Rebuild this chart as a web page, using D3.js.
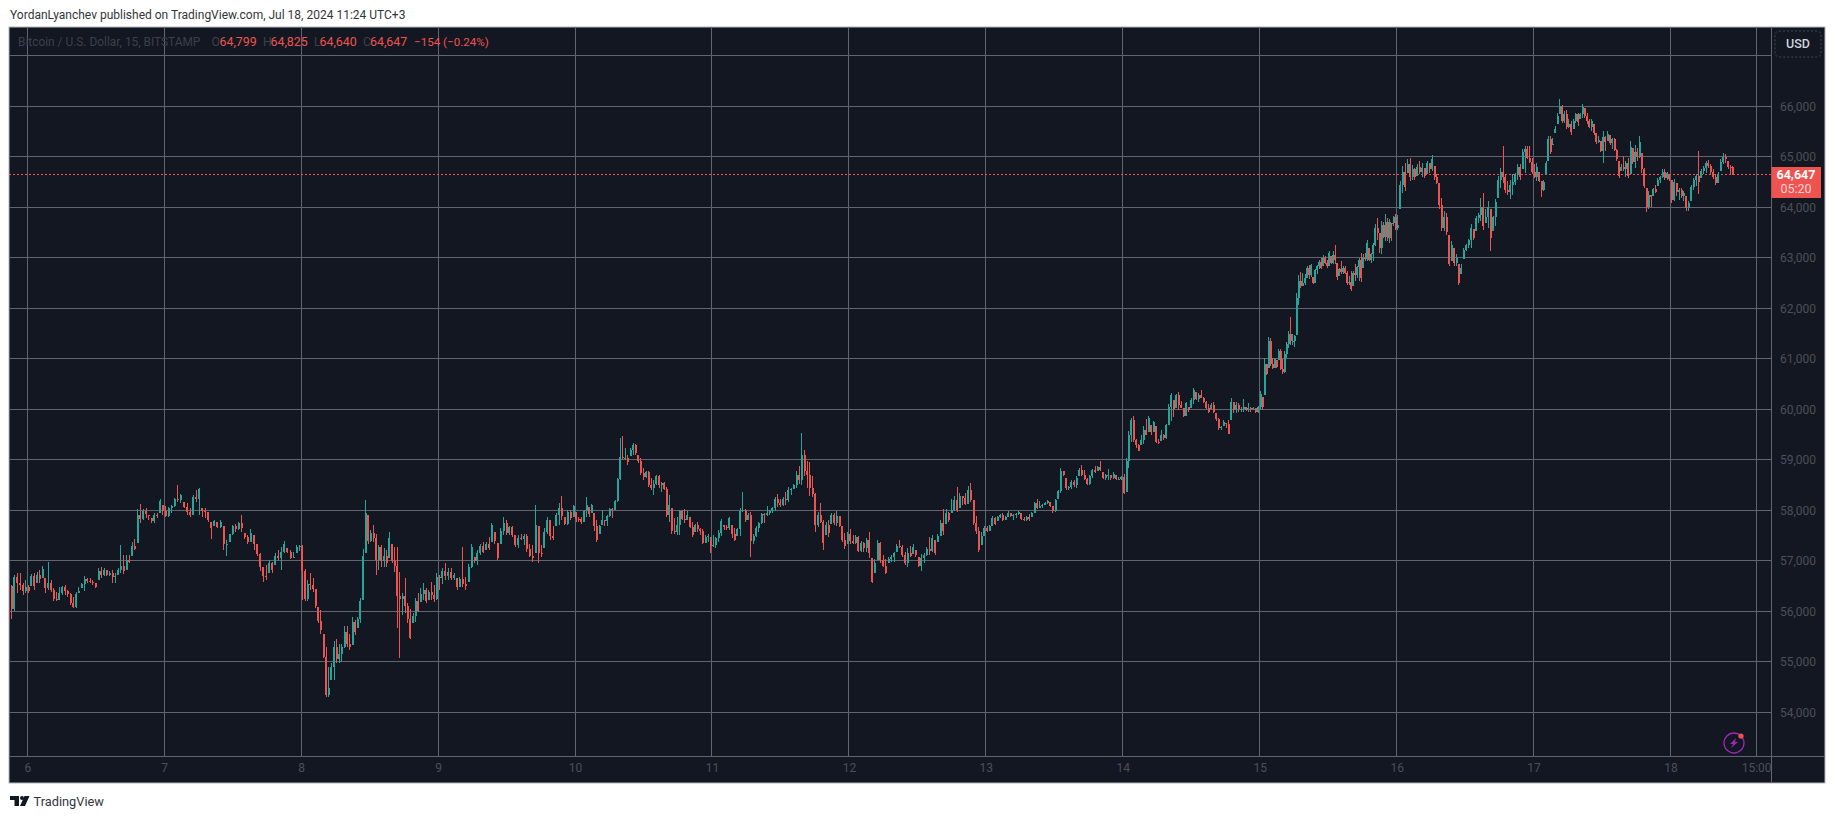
<!DOCTYPE html>
<html>
<head>
<meta charset="utf-8">
<script src="https://cdn.jsdelivr.net/npm/d3@7"></script>
<style>
  html, body { margin: 0; background: #fff; }
  text { font-family: Roboto, "Noto Sans", sans-serif; }
</style>
</head>
<body>
<div id="root"></div>
<script>
// half hour candles, each row is [high, low, close]
const day5 = [[56520,55850,56040],[56720,56000,56680],[56750,56360,56560],[56750,56420,56520],[56560,56320,56400],[56620,56360,56490]]
const day6 = [[56520,56360,56400],[56740,56510,56700],[56750,56420,56500],[56770,56560,56720],[56820,56560,56640],[56890,56650,56830],[56650,56360,56460],[56970,56420,56560],[56620,56390,56420],[56460,56210,56240],[56390,56210,56220],[56490,56230,56360],[56500,56320,56480],[56520,56320,56400],[56420,56290,56340],[56360,56130,56170],[56290,56060,56080],[56390,56060,56340],[56490,56360,56400],[56570,56460,56540],[56690,56410,56640],[56660,56560,56600],[56660,56560,56590],[56610,56520,56560],[56560,56470,56490],[56850,56620,56800],[56870,56660,56710],[56850,56690,56810],[56810,56690,56710],[56790,56690,56760],[56810,56560,56680],[56750,56560,56700],[56850,56720,56820],[57320,56750,56900],[57120,56740,56790],[57120,56820,57020],[57120,56950,56980],[57380,57090,57300],[57430,57220,57240],[58030,57350,57900],[58120,57750,57820],[58030,57810,57980],[58050,57850,57920],[57910,57810,57880],[57850,57750,57790],[57950,57750,57900],[57950,57850,57880],[58230,57950,58180],[58100,57910,57990]]
const day7 = [[58090,57860,57880],[58060,57860,58040],[58110,57940,58090],[58250,58070,58230],[58500,58170,58200],[58320,58140,58300],[58170,58040,58060],[58140,57910,57960],[58040,57870,57900],[58300,57910,58270],[58400,58170,58230],[58440,57910,58420],[58040,57870,57990],[58040,57840,57980],[57970,57770,57800],[57770,57440,57640],[57810,57680,57790],[57770,57640,57670],[57810,57640,57760],[57680,57210,57330],[57410,57100,57330],[57540,57380,57530],[57710,57510,57690],[57730,57580,57620],[57770,57610,57750],[57910,57580,57640],[57560,57440,57480],[57510,57340,57380],[57630,57380,57560],[57510,57210,57330],[57340,57090,57130],[57150,56800,56880],[56880,56580,56700],[56910,56620,56680],[57010,56760,56960],[56980,56750,56820],[57150,56910,57100],[57210,57010,57060],[57280,56820,57180],[57390,57150,57330],[57250,57150,57180],[57210,57040,57060],[57180,57050,57080],[57310,57150,57280],[57310,57200,57290]]
const day8 = [[57310,56220,56800],[56830,56210,56240],[56610,56210,56550],[56750,56420,56520],[56650,56390,56440],[56450,56060,56100],[56080,55760,55800],[56030,55560,55620],[55560,55070,55100],[55300,54300,54350],[54900,54310,54480],[54970,54640,54900],[55420,54640,55300],[55460,54970,55050],[55360,54970,55150],[55350,55000,55300],[55700,55270,55600],[55700,55300,55360],[55560,55230,55300],[55890,55330,55780],[55830,55530,55600],[55890,55660,55840],[56260,55760,56200],[57240,56220,57100],[58200,57150,57950],[57910,57340,57400],[57610,57380,57560],[57710,57380,57450],[57540,56720,57020],[57310,56820,57280],[57310,56880,57000],[57250,56880,57100],[57210,56880,56950],[57580,57050,57450],[57340,56950,57000],[57280,56780,56900],[57280,55660,56300],[56770,55070,56250],[56360,55930,56300],[56650,55970,56100],[56160,55760,55850],[56040,55460,55480],[55960,55760,55900],[56260,55790,56200],[56360,55990,56000],[56460,56190,56350],[56560,56230,56420],[56460,56160,56200],[56420,56230,56380],[56580,56230,56330],[56520,56190,56250],[56750,56230,56680]]
const day9 = [[56720,56420,56650],[56850,56550,56800],[56950,56620,56700],[56850,56620,56780],[56850,56620,56660],[56750,56620,56720],[56650,56420,56480],[56680,56480,56640],[57280,56480,56550],[56680,56420,56500],[56930,56580,56880],[57340,56850,57280],[57080,56950,57000],[57210,56910,57150],[57340,57110,57300],[57380,57150,57180],[57380,57210,57330],[57480,57210,57250],[57740,57380,57700],[57580,57340,57400],[57360,57010,57050],[57640,57340,57600],[57860,57510,57750],[57810,57510,57560],[57680,57510,57660],[57680,57480,57520],[57510,57280,57320],[57510,57250,57460],[57540,57410,57430],[57540,57310,57500],[57540,57180,57230],[57340,57070,57100],[57310,56980,57060],[58110,57150,57700],[57680,56950,57150],[57310,57080,57130],[57640,57250,57580],[57860,57540,57800],[57810,57410,57500],[57680,57410,57450],[57940,57680,57900],[58140,57710,58050],[58280,57810,57880],[57870,57710,57730],[58010,57710,57960],[58010,57810,57850],[58110,57870,58080]]
const day10 = [[57970,57770,57830],[57870,57770,57820],[57870,57730,57760],[58010,57770,57980],[58260,57870,58100],[58070,57870,57920],[58130,57940,58100],[57940,57600,57680],[57810,57380,57420],[57710,57540,57680],[58010,57710,57800],[57810,57680,57790],[57910,57680,57880],[58040,57870,58020],[58040,57840,58000],[58210,58010,58190],[58640,58170,58620],[59430,58600,59060],[59480,59000,59030],[59230,59000,59040],[59100,58900,58950],[59230,59070,59200],[59330,59100,59290],[59320,59100,59130],[59100,58930,58980],[59030,58700,58730],[58830,58600,58650],[58770,58640,58750],[58770,58470,58500],[58640,58400,58450],[58600,58300,58530],[58700,58500,58680],[58700,58440,58500],[58570,58370,58540],[58570,58400,58430],[58470,57870,57900],[58300,57770,58100],[58040,57540,57600],[57840,57540,57570],[57870,57510,57700],[58010,57510,57990],[58010,57810,57830],[58020,57740,57800],[58010,57810,57900],[57870,57640,57660],[57770,57480,57520],[57730,57580,57700],[57770,57580,57620],[57640,57510,57600],[57630,57340,57360],[57510,57360,57480],[57540,57380,57500],[57480,57160,57300]]
const day11 = [[57510,57280,57320],[57480,57250,57450],[57610,57380,57560],[57830,57490,57780],[57710,57610,57660],[57710,57610,57650],[57860,57610,57850],[57710,57460,57540],[57640,57400,57420],[57640,57490,57620],[58040,57500,57980],[58360,57970,58000],[58020,57760,57800],[57940,57810,57900],[57960,57080,57400],[57540,57330,57500],[57680,57480,57640],[57770,57580,57750],[57940,57730,57920],[57940,57740,57900],[58090,57890,57950],[58010,57910,57980],[58060,57950,58040],[58260,57990,58230],[58320,58070,58150],[58220,58070,58100],[58270,58090,58230],[58360,58110,58200],[58470,58170,58400],[58440,58300,58420],[58520,58420,58500],[58770,58440,58700],[58870,58520,58600],[59530,58500,59100],[59200,58670,58780],[58970,58440,58700],[58950,58280,58450],[58680,58270,58330],[58340,57580,57700],[57970,57660,57900],[58140,57740,57770],[57810,57210,57350],[57770,57510,57700],[57810,57480,57550],[57940,57730,57900],[57940,57710,57750],[57990,57680,57880],[57890,57660,57680],[57680,57380,57420],[57560,57230,57300],[57580,57340,57540]]
const day12 = [[57620,57330,57400],[57510,57330,57350],[57510,57330,57480],[57490,57180,57200],[57400,57180,57360],[57380,57180,57250],[57460,57180,57420],[57580,57050,57150],[57060,56560,56580],[57040,56750,56950],[57420,57010,57350],[57380,56950,57020],[57110,56880,56900],[57030,56740,56760],[57080,56950,57040],[57110,56980,57080],[57180,56980,57160],[57340,57180,57300],[57410,57250,57280],[57310,57080,57120],[57180,56910,56950],[57250,56880,57150],[57290,57080,57100],[57330,57130,57280],[57210,57080,57120],[57080,56880,56900],[57130,56800,57050],[57160,56960,57120],[57280,57090,57240],[57480,57110,57200],[57510,57180,57450],[57410,57110,57150],[57540,57380,57500],[57810,57490,57750],[58020,57510,57600],[58020,57730,57950],[57970,57770,57800],[58220,57940,58000],[58280,57990,58210],[58460,57970,58000],[58340,58040,58290],[58280,58110,58250],[58350,58110,58130],[58480,58130,58400],[58550,58170,58200],[58210,57710,57750],[57890,57530,57600],[57660,57180,57220],[57580,57310,57500],[57690,57490,57640]]
const day13 = [[57690,57580,57600],[57710,57600,57680],[57890,57690,57850],[57860,57710,57720],[57890,57780,57860],[57930,57840,57900],[57940,57790,57810],[57890,57810,57870],[57990,57860,57950],[57940,57860,57880],[57930,57810,57900],[57940,57840,57920],[57990,57910,57970],[57940,57810,57830],[57870,57790,57810],[57890,57790,57870],[57930,57790,57820],[57970,57860,57950],[58170,57940,58140],[58220,58020,58050],[58190,58040,58080],[58130,58040,58110],[58170,58110,58150],[58210,58130,58180],[58170,58060,58080],[58090,57950,57980],[58220,57970,58200],[58400,58220,58380],[58830,58340,58780],[58770,58670,58700],[58640,58400,58450],[58480,58400,58470],[58600,58420,58560],[58600,58470,58500],[58670,58440,58640],[58830,58670,58800],[58900,58670,58700],[58800,58600,58620],[58640,58500,58520],[58700,58500,58680],[58810,58640,58790],[58880,58730,58750],[58870,58770,58850],[58980,58770,58790],[58750,58620,58640],[58720,58600,58690],[58810,58600,58700],[58700,58600,58640],[58750,58620,58710],[58700,58600,58620],[58650,58600,58620],[58680,58600,58650]]
const day14 = [[58720,58320,58350],[59030,58360,58980],[59570,58830,59500],[59830,59360,59780],[59870,59360,59400],[59420,59230,59300],[59320,59170,59180],[59490,59290,59400],[59660,59310,59600],[59800,59490,59500],[59870,59560,59820],[59690,59490,59550],[59770,59560,59750],[59660,59330,59350],[59420,59310,59330],[59600,59380,59500],[59510,59400,59430],[59700,59420,59680],[60110,59690,60050],[60320,59770,60280],[60190,59850,60000],[60300,60020,60280],[60340,59990,60080],[60170,60020,60030],[60020,59850,59870],[60150,59870,60120],[60040,59950,59990],[60220,60020,60190],[60420,60110,60380],[60350,60190,60200],[60330,60150,60290],[60380,60220,60230],[60240,60130,60150],[60170,60000,60020],[60100,59930,59950],[60120,60000,60090],[60140,59920,59940],[59920,59770,59800],[59820,59600,59620],[59670,59590,59650],[59790,59660,59740],[59720,59620,59700],[59790,59510,59520],[60220,59790,60150],[60150,59920,59980],[60140,59920,60090],[60130,59950,60000],[60050,59950,60010],[60200,59950,60050],[60050,59970,59990],[60120,59950,60020],[60040,59950,60000],[60050,59990,60020],[60020,59920,59950],[60070,59920,60040]]
const day15 = [[60360,59990,60300],[60250,59990,60050],[61010,60280,60900],[60900,60680,60700],[61440,60810,61350],[61410,60850,60900],[61010,60800,60820],[61010,60810,60990],[60980,60810,60830],[61190,60980,61150],[61190,60770,60800],[60990,60700,60730],[61150,60710,61100],[61340,61010,61300],[61560,61210,61500],[61830,61280,61350],[61500,61280,61350],[61480,61240,61450],[62300,61480,62200],[62650,62070,62550],[62710,62400,62450],[62700,62440,62500],[62670,62470,62600],[62830,62600,62800],[62850,62580,62650],[62870,62620,62850],[62620,62490,62500],[62770,62500,62750],[62850,62670,62830],[62950,62770,62920],[63000,62770,62800],[63050,62830,63000],[63030,62870,62900],[62950,62800,62830],[63130,62830,63100],[63030,62870,62900],[63130,62870,63050],[63260,62870,62950],[62900,62560,62620],[62800,62630,62780],[62930,62670,62720],[62830,62670,62800],[62830,62670,62700],[62730,62470,62500],[62630,62470,62530],[62740,62340,62380],[62740,62440,62700],[62870,62540,62650],[62840,62600,62810],[63000,62540,62950],[63100,62520,62600],[63070,62800,63000],[63100,62930,62980],[63360,62930,63300],[63200,62930,62960],[63100,62900,63070],[63300,62930,63250],[63660,63230,63600],[63790,63360,63500],[63490,63100,63200],[63730,63070,63650],[63710,63400,63420],[63870,63330,63700],[63790,63330,63400],[63760,63300,63700],[63690,63330,63680],[63830,63630,63800],[63860,63560,63600]]
const day16 = [[63840,63560,63650],[64520,63960,64450],[64820,64290,64700],[64870,64320,64400],[64950,64680,64850],[64980,64520,64600],[64830,64540,64750],[64780,64550,64600],[64850,64620,64800],[64910,64650,64700],[64870,64600,64780],[64780,64580,64620],[64910,64650,64880],[64870,64680,64750],[65030,64720,64950],[64820,64540,64600],[64650,64470,64490],[64490,63960,64050],[64190,63530,63600],[63920,63530,63800],[63890,63460,63520],[63460,62840,62880],[63330,62930,63250],[63200,62840,62900],[63070,62840,63000],[62870,62470,62500],[62870,62670,62800],[63200,62970,63150],[63280,63130,63250],[63380,63200,63350],[63660,63200,63600],[63570,63360,63400],[63830,63530,63780],[63890,63690,63850],[64190,63730,64000],[64290,63560,63620],[63960,63690,63800],[64120,63590,64000],[63960,63130,63400],[63830,63530,63800],[64160,63630,64100],[64620,64190,64550],[64780,64390,64700],[65220,64490,64600],[64650,64290,64350],[64520,64250,64300],[64550,64160,64450],[64650,64250,64500],[64680,64450,64640],[64850,64550,64800],[64850,64550,64600],[65160,64750,65100],[65210,64680,65150],[65220,64950,64980],[65220,64880,64900],[64980,64650,64700]]
const day17 = [[64850,64580,64600],[64870,64520,64800],[64700,64500,64520],[64520,64200,64350],[64550,64320,64500],[64910,64630,64880],[65410,64910,65350],[65410,65050,65100],[65380,65240,65250],[65610,65480,65550],[65870,65640,65800],[66140,65840,66000],[66020,65670,65700],[65900,65670,65850],[65920,65550,65600],[65740,65570,65650],[65710,65440,65500],[65740,65550,65700],[65870,65670,65850],[65870,65610,65680],[65870,65740,65850],[66040,65770,65980],[65970,65770,65800],[65870,65640,65700],[65740,65570,65600],[65740,65510,65700],[65640,65440,65480],[65480,65260,65300],[65410,65280,65330],[65310,65090,65120],[65510,64870,65400],[65410,65110,65300],[65510,65310,65450],[65440,65240,65280],[65380,65150,65350],[65380,65110,65130],[65150,64910,64950],[64910,64580,64620],[64850,64720,64800],[65010,64720,64750],[64910,64600,64880],[64980,64580,64620],[65310,64650,65200],[65180,64850,64900],[65240,64780,65100],[65180,64910,65000],[65410,64980,65300],[65080,64680,64750],[64780,64390,64420],[64390,63900,64000],[64320,63960,64250],[64250,64010,64200],[64390,64230,64370],[64450,64290,64300],[64580,64430,64550],[64620,64480,64600],[64750,64580,64700],[64750,64550,64580],[64700,64550,64680],[64650,64520,64560]]
const day18 = [[64550,64080,64150],[64560,64120,64500],[64480,64220,64300],[64390,64140,64350],[64390,64190,64220],[64320,64120,64280],[64220,63920,63980],[64120,63920,64090],[64450,64120,64400],[64580,64350,64540],[64650,64420,64620],[65110,64270,64500],[64750,64580,64720],[64820,64650,64780],[64910,64680,64880],[64930,64780,64820],[64850,64650,64700],[64750,64560,64600],[64650,64440,64480],[64700,64490,64660],[64950,64720,64900],[65070,64850,65000],[65050,64870,64950],[64910,64750,64800],[64830,64630,64799],[64825,64640,64647]]

const days = [5,6,7,8,9,10,11,12,13,14,15,16,17,18]
const dayRows = [day5,day6,day7,day8,day9,day10,day11,day12,day13,day14,day15,day16,day17,day18]
const firstOpen = 56500
const lastPrice = 64647
const priceTicks = [54000,55000,56000,57000,58000,59000,60000,61000,62000,63000,64000,65000,66000,67000]
const priceLabels = [54000,55000,56000,57000,58000,59000,60000,61000,62000,63000,64000,65000,66000]
const dayTicks = [6,7,8,9,10,11,12,13,14,15,16,17,18]
const sessionTick = 18.625

const width = 1835
const height = 819
const panel = {left: 9, top: 27, right: 1825, bottom: 783}
const plotRight = 1771.5
const plotBottom = 756

const up = '#26a69a'
const down = '#ef5350'
const dim = '#4c4f58'
const gridColor = '#62646f'

const x = d3.scaleLinear().domain([6, 18]).range([27.3, 1670.5])
const y = d3.scaleLinear().domain([54000, 66000]).range([712.3, 106.3])

// day 5 only shows its last three hours and day 18 stops at 11:00
const startOf = (d) => d === 5 ? 5.875 : d
const spanOf = (d) => d === 5 ? 0.125 : d === 18 ? 0.465 : 1

let prev = firstOpen
const candles = []
days.forEach((d, k) => {
  const rows = dayRows[k]
  rows.forEach((r, i) => {
    const open = Math.max(r[1], Math.min(r[0], prev))
    candles.push({t: startOf(d) + (i + 0.5) / rows.length * spanOf(d), open, high: r[0], low: r[1], close: r[2]})
    prev = r[2]
  })
})

const svg = d3.select('#root').append('svg').attr('width', width).attr('height', height).style('display', 'block')

svg.append('text').attr('x', 10).attr('y', 19).attr('font-size', 12).attr('fill', '#33353c')
  .text('YordanLyanchev published on TradingView.com, Jul 18, 2024 11:24 UTC+3')

svg.append('rect')
  .attr('x', panel.left).attr('y', panel.top)
  .attr('width', panel.right - panel.left).attr('height', panel.bottom - panel.top)
  .attr('fill', '#131722').attr('stroke', '#b2b5be').attr('stroke-width', 1)

// grid
const grid = svg.append('g').attr('stroke', gridColor).attr('stroke-width', 1).attr('shape-rendering', 'crispEdges')
grid.selectAll('.h').data(priceTicks).join('line').attr('class', 'h')
  .attr('x1', panel.left).attr('x2', plotRight).attr('y1', d => y(d)).attr('y2', d => y(d))
grid.selectAll('.v').data(dayTicks.concat(sessionTick)).join('line').attr('class', 'v')
  .attr('x1', d => x(d)).attr('x2', d => x(d)).attr('y1', panel.top).attr('y2', plotBottom)
grid.append('line').attr('x1', plotRight).attr('x2', plotRight).attr('y1', panel.top).attr('y2', panel.bottom)
grid.append('line').attr('x1', panel.left).attr('x2', panel.right).attr('y1', plotBottom).attr('y2', plotBottom)

// axes
const yAxis = d3.axisRight(y).tickValues(priceLabels).tickSize(0).tickPadding(0).tickFormat(d3.format(','))
const yg = svg.append('g').attr('transform', `translate(1780,0)`).call(yAxis)
yg.select('.domain').remove()
yg.selectAll('text').attr('font-size', 12).attr('fill', dim).style('font-family', 'Roboto, sans-serif')

const xAxis = d3.axisBottom(x).tickValues(dayTicks.concat(sessionTick)).tickSize(0).tickPadding(0)
  .tickFormat(d => d === sessionTick ? '15:00' : d)
const xg = svg.append('g').attr('transform', `translate(0,763)`).call(xAxis)
xg.select('.domain').remove()
xg.selectAll('text').attr('font-size', 12).attr('fill', dim).style('font-family', 'Roboto, sans-serif')

// last price line
svg.append('line').attr('x1', panel.left).attr('x2', plotRight)
  .attr('y1', y(lastPrice)).attr('y2', y(lastPrice))
  .attr('stroke', down).attr('stroke-width', 1).attr('stroke-dasharray', '1.5 2.5').attr('shape-rendering', 'crispEdges')

// candles
const colour = (d) => d.close >= d.open ? up : down
const bars = svg.append('g').attr('shape-rendering', 'crispEdges')
bars.selectAll('.wick').data(candles).join('line').attr('class', 'wick')
  .attr('x1', d => x(d.t)).attr('x2', d => x(d.t))
  .attr('y1', d => y(d.high)).attr('y2', d => y(d.low))
  .attr('stroke', colour).attr('stroke-width', 1)
bars.selectAll('.body').data(candles).join('rect').attr('class', 'body')
  .attr('x', d => x(d.t) - 1).attr('width', 2)
  .attr('y', d => y(Math.max(d.open, d.close)))
  .attr('height', d => Math.max(1, Math.abs(y(d.open) - y(d.close))))
  .attr('fill', colour)

// legend line
const legend = svg.append('g').attr('font-size', 12.4)
legend.append('text').attr('x', 18).attr('y', 46).attr('font-size', 11.9).attr('fill', '#3d4049').text('Bitcoin / U.S. Dollar, 15, BITSTAMP')
const legendBits = [['O', 211.5, '64,799', 219.5], ['H', 263, '64,825', 270.5], ['L', 314, '64,640', 319.5], ['C', 363, '64,647', 370]]
legendBits.forEach(b => {
  legend.append('text').attr('x', b[1]).attr('y', 46).attr('fill', '#3d4049').text(b[0])
  legend.append('text').attr('x', b[3]).attr('y', 46).attr('fill', down).text(b[2])
})
legend.append('text').attr('x', 414).attr('y', 46).attr('font-size', 11.6).attr('fill', down).text('\u2212154 (\u22120.24%)')

// currency button
svg.append('rect').attr('x', 1775).attr('y', 31).attr('width', 46).attr('height', 26).attr('rx', 4)
  .attr('fill', 'none').attr('stroke', '#434651').attr('stroke-dasharray', '2 2')
svg.append('text').attr('x', 1798).attr('y', 48).attr('text-anchor', 'middle').attr('font-size', 12.5)
  .attr('font-weight', 500).attr('fill', '#d1d4dc').text('USD')

// last price tag
svg.append('rect').attr('x', plotRight).attr('y', 167).attr('width', 49.5).attr('height', 31).attr('fill', down)
svg.append('text').attr('x', 1796).attr('y', 179).attr('text-anchor', 'middle').attr('font-size', 12.5)
  .attr('font-weight', 700).attr('fill', '#fff').text('64,647')
svg.append('text').attr('x', 1796).attr('y', 193).attr('text-anchor', 'middle').attr('font-size', 12.5)
  .attr('fill', '#fff').attr('fill-opacity', 0.75).text('05:20')

// lightning badge
const badge = svg.append('g').attr('transform', 'translate(1734,743)')
badge.append('circle').attr('r', 10).attr('fill', 'none').attr('stroke', '#9c27b0').attr('stroke-width', 1.3)
badge.append('path').attr('d', 'M2,-5 L-4,1 L-1,1 L-3,5 L4,-1 L1,-1 Z').attr('fill', '#9c27b0')
badge.append('circle').attr('cx', 7).attr('cy', -7).attr('r', 2.6).attr('fill', down)

// logo
const logo = svg.append('g').attr('fill', '#131722')
logo.append('path').attr('d', 'M10,796 H19 V806 H14.5 V800 H10 Z')
logo.append('circle').attr('cx', 22).attr('cy', 798).attr('r', 2)
logo.append('path').attr('d', 'M24.5,796 H29.5 L25,806 H20 Z')
svg.append('text').attr('x', 33.5).attr('y', 806).attr('font-size', 12.8).attr('fill', '#33353c').text('TradingView')
</script>
</body>
</html>
